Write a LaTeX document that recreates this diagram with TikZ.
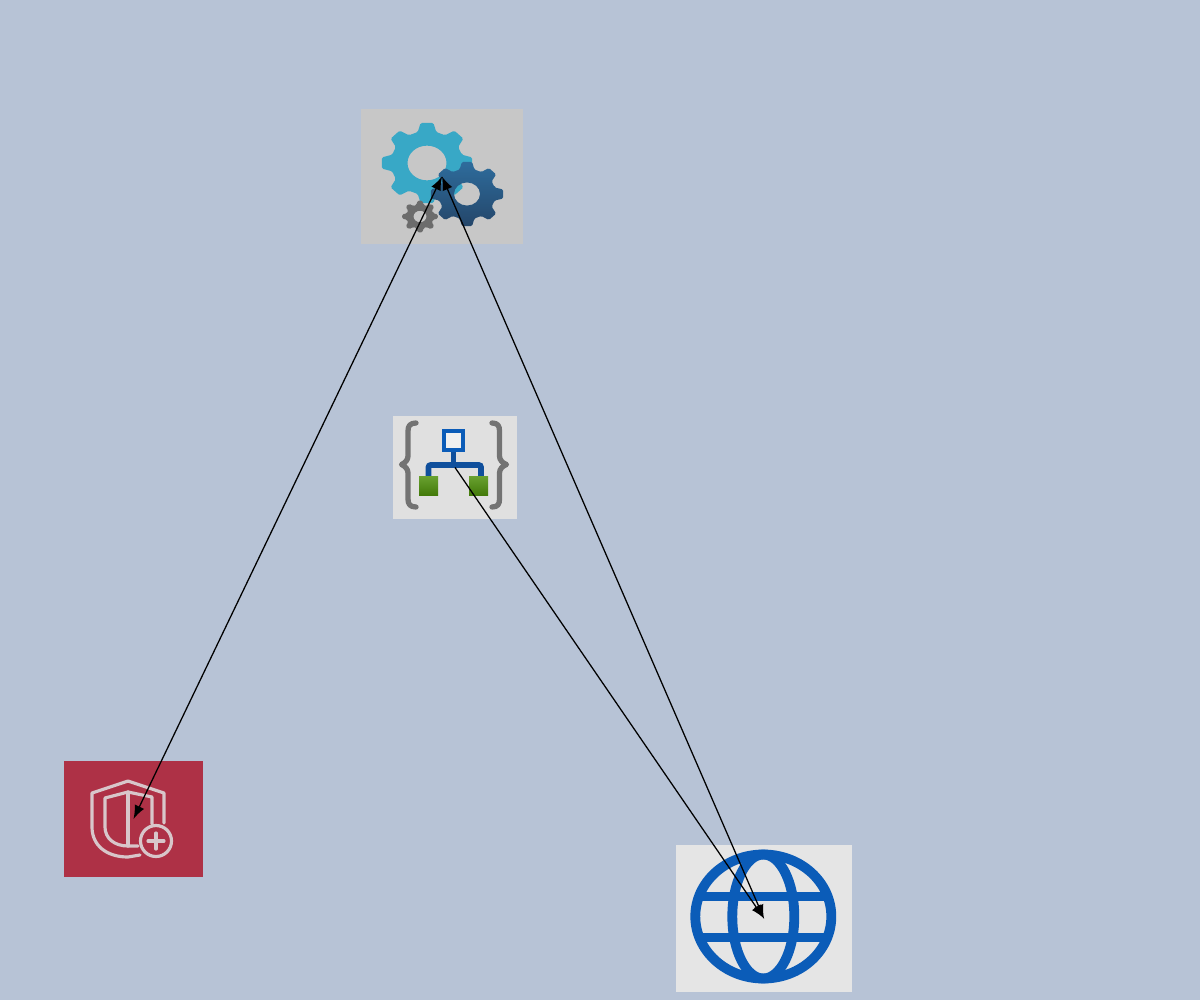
\documentclass[tikz,border=0pt]{standalone}
\usepackage{tikz}
\definecolor{pagebg}{HTML}{B7C3D6}
\definecolor{gearblue}{HTML}{38A8C6}
\definecolor{gearnavy}{HTML}{2E6C9C}
\definecolor{geardeep}{HTML}{24466A}
\definecolor{geargrey}{HTML}{6C6C6C}
\definecolor{braceblue}{HTML}{0F4F9C}
\definecolor{leafgreen}{HTML}{4F900C}
\definecolor{globeblue}{HTML}{0B5CB8}
\definecolor{shieldred}{HTML}{AE3146}
\definecolor{shieldline}{HTML}{D8C6CA}
\tikzstyle{icon_box}=[rectangle, inner sep=0pt, outer sep=0pt, draw=none]
\tikzstyle{link}=[line width=0.36pt, color=black, >=latex]
\tikzstyle{shield_line}=[draw=shieldline, line width=0.9pt, line join=round, line cap=round]
\tikzstyle{globe_line}=[draw=globeblue, line width=2.8pt]
\tikzstyle{curly}=[draw=black!55, line width=1.5pt, line cap=round, line join=round]
\newcommand{\gearicon}[6]{
  \path[shift={(#1,#2)}, yscale=0.89, even odd rule, rounded corners=0.4pt, #6] (-15:#4)
    \foreach \a in {0,45,...,315} { -- (\a-8:#3) -- (\a+8:#3) -- (\a+15:#4) -- (\a+30:#4) }
    -- cycle (0,0) circle (#5);
}
\begin{document}
\begin{tikzpicture}[x=0.01cm, y=-0.01cm]
    \useasboundingbox (0,0) rectangle (1200,1000);
    \fill[pagebg] (0,0) rectangle (1200,1000);

    \node (gears) at (442,176.5) [icon_box, fill=black!22, minimum width=1.62cm, minimum height=1.35cm] {};
    \node (template) at (455,467.5) [icon_box, fill=black!12, minimum width=1.24cm, minimum height=1.03cm] {};
    \node (shield) at (133.5,819) [icon_box, fill=shieldred, minimum width=1.39cm, minimum height=1.16cm] {};
    \node (globe) at (764,918.5) [icon_box, fill=black!10, minimum width=1.76cm, minimum height=1.47cm] {};

    % gears
    \gearicon{427}{163}{45.5}{36}{19.5}{fill=gearblue}
    \gearicon{467}{194}{36.5}{28.5}{13}{top color=gearnavy, bottom color=geardeep}
    \gearicon{420}{216.5}{18}{13.5}{6.5}{fill=geargrey}

    % template
    \draw[curly] (416,423) .. controls (410,423) and (408,426) .. (408,431) -- (408,456) .. controls (408,460) and (405,463) .. (401.5,464.5) .. controls (405,466) and (408,469) .. (408,473) -- (408,499) .. controls (408,504) and (410,507) .. (416,507);
    \draw[curly] (492,423) .. controls (498,423) and (499.5,426) .. (499.5,431) -- (499.5,456) .. controls (499.5,460) and (502.5,463) .. (506.5,464.5) .. controls (502.5,466) and (499.5,469) .. (499.5,473) -- (499.5,499) .. controls (499.5,504) and (498,507) .. (492,507);
    \draw[draw=braceblue, line width=1.4pt] (453.5,451) -- (453.5,465);
    \draw[draw=braceblue, line width=1.6pt, rounded corners=0.6pt] (428.5,478) -- (428.5,465) -- (481,465) -- (481,478);
    \draw[draw=globeblue, line width=0.95pt, fill=black!6] (444,431) rectangle (463,450);
    \shade[top color=leafgreen!85!white, bottom color=leafgreen!85!black] (419,476) rectangle (438,495);
    \shade[top color=leafgreen!85!white, bottom color=leafgreen!85!black] (469,476) rectangle (488,495);

    % shield
    \draw[shield_line] (140,855) -- (128,857) .. controls (106,857) and (92,845) .. (92,827) -- (92,793) -- (128,781) -- (164,793) -- (164,823);
    \draw[shield_line] (138,846) -- (128,846) .. controls (114,846) and (105,838) .. (105,827) -- (105,798) -- (128,792) -- (152,797) -- (152,824);
    \draw[shield_line] (128,792) -- (128,846);
    \draw[shield_line] (156,841) circle (15.5);
    \draw[shield_line] (148,841) -- (164,841);
    \draw[shield_line] (156,833) -- (156,849);

    % globe
    \draw[globe_line] (763.3,916.5) ellipse (68 and 62);
    \draw[globe_line] (763.3,916.5) ellipse (31 and 62);
    \draw[globe_line] (700,896.5) -- (827,896.5);
    \draw[globe_line] (700,937.5) -- (827,937.5);

    \draw (shield.center) -- (gears.center) [link, <->];
    \draw (globe.center) -- (gears.center) [link, <->];
    \draw (template.center) -- (globe.center) [link, ->];
\end{tikzpicture}
\end{document}
